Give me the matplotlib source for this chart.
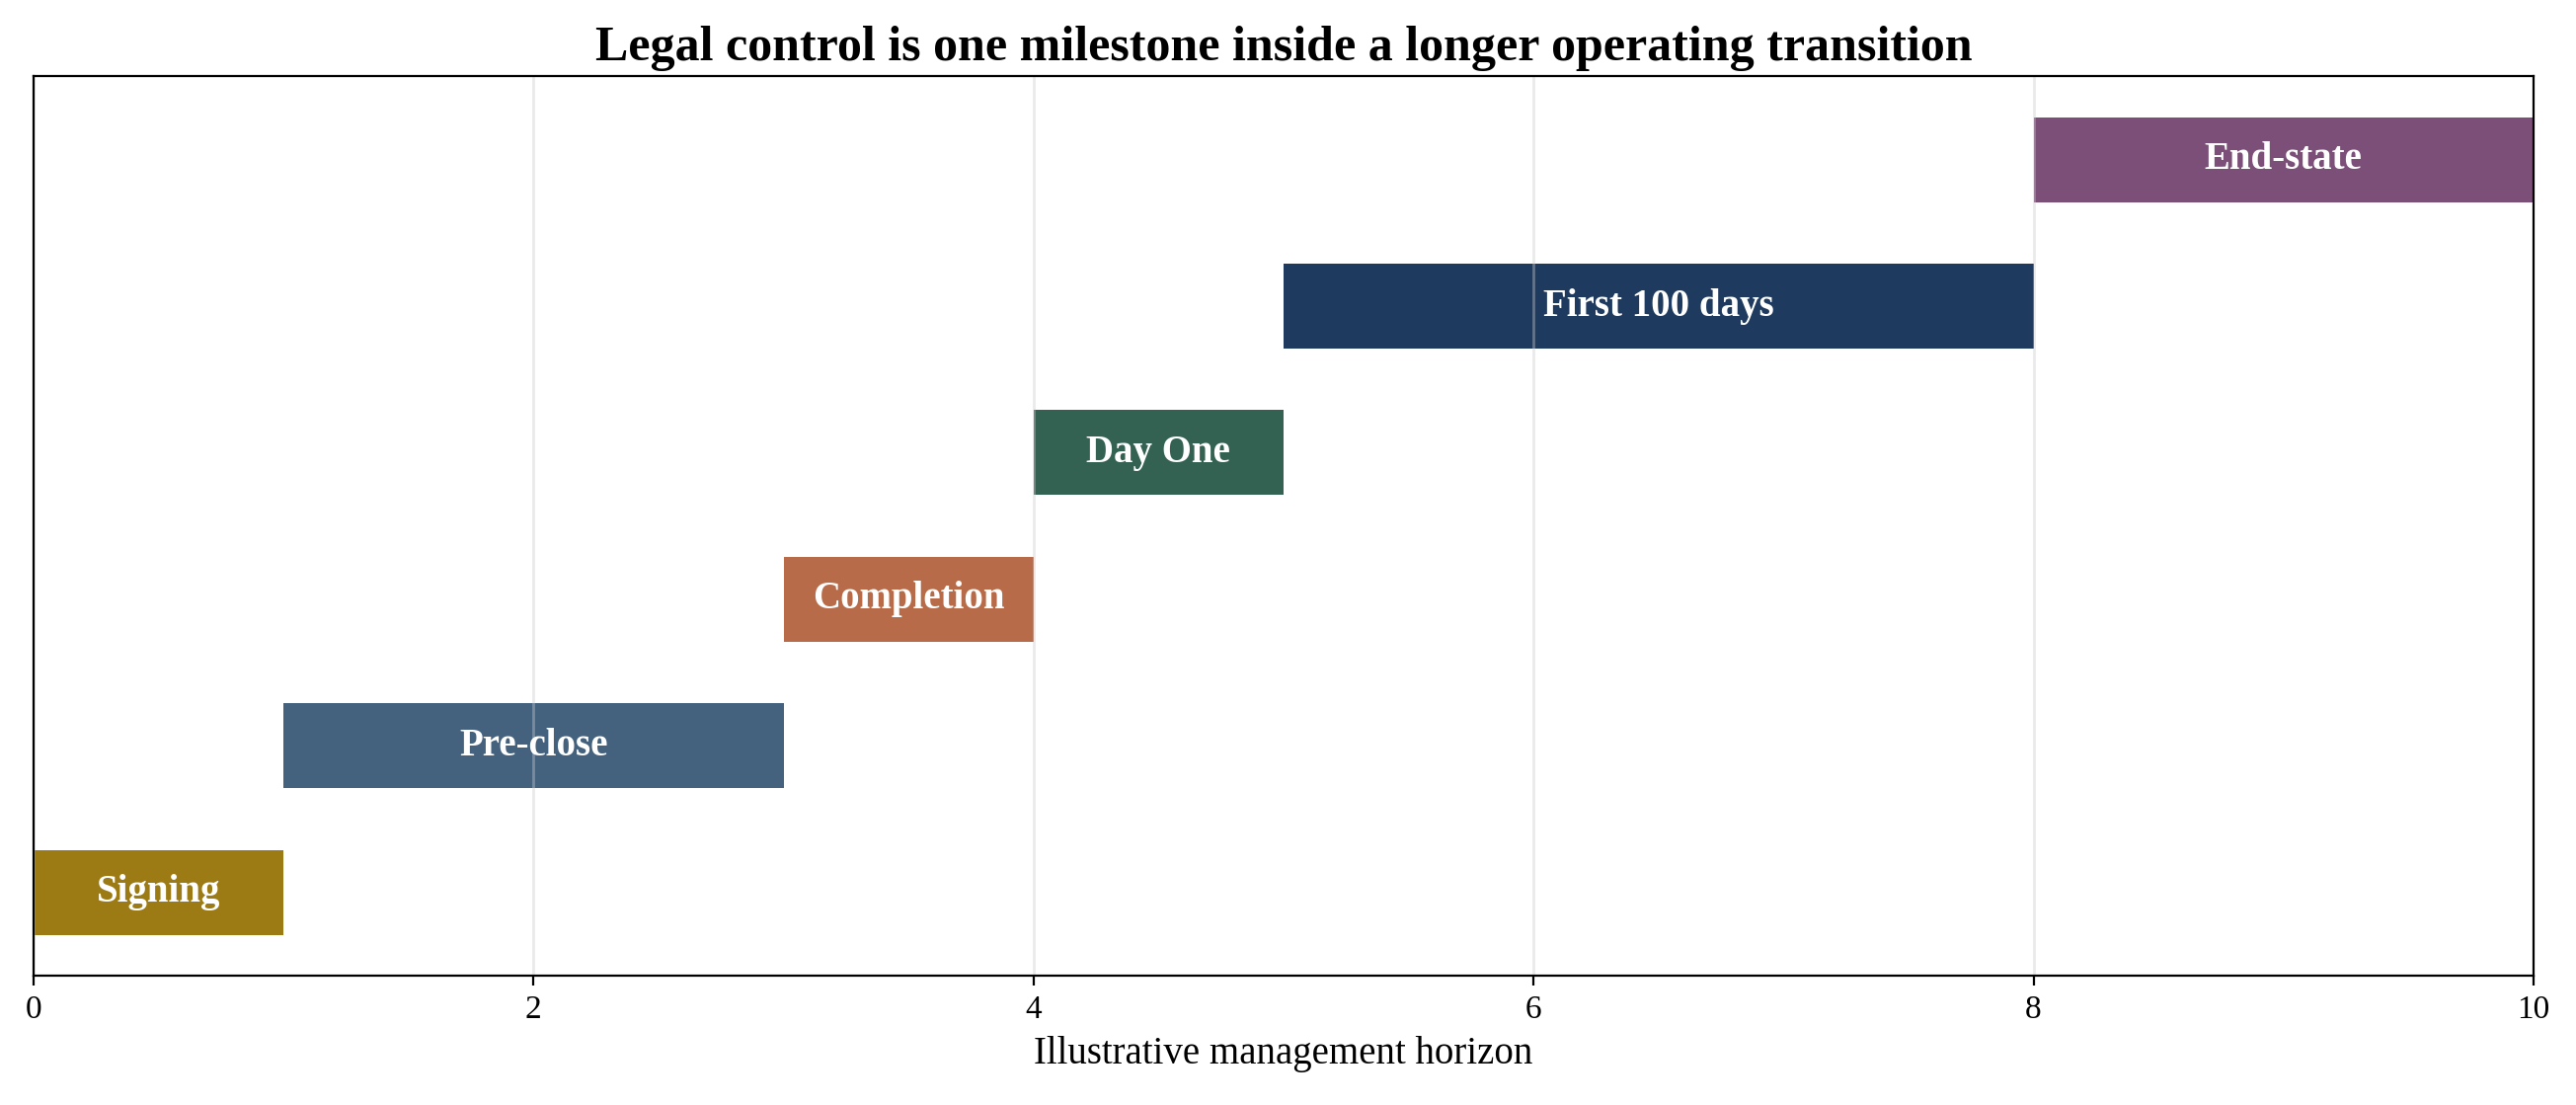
import matplotlib.pyplot as plt

plt.rcParams['font.family'] = ['Liberation Serif', 'DejaVu Serif']

phases = ["Signing", "Pre-close", "Completion", "Day One", "First 100 days", "End-state"]
starts = [0, 1, 3, 4, 5, 8]
durations = [1, 2, 1, 1, 3, 2]
colors = ["#9c7a14", "#44617e", "#b86b48", "#336152", "#1f3a5f", "#7b4f78"]

fig, ax = plt.subplots(figsize=(2609 / 200, 1119 / 200), dpi=200)
fig.subplots_adjust(left=0.013, right=0.9835, top=0.931, bottom=0.117)

ypos = list(range(len(phases)))
ax.barh(ypos, durations, left=starts, height=0.58, color=colors)

# phase names centred on each bar
for y, s, d, name in zip(ypos, starts, durations, phases):
    ax.text(s + d / 2, y, name, ha='center', va='center',
            color='white', fontsize=14, fontweight='bold')

ax.set_xlim(0, 10)
ax.set_yticks([])
ax.set_xticks([0, 2, 4, 6, 8, 10])
ax.tick_params(axis='x', labelsize=12)
ax.grid(axis='x', color='#cccccc', alpha=0.4, linewidth=1)
ax.set_xlabel('Illustrative management horizon', fontsize=14)
ax.set_title('Legal control is one milestone inside a longer operating transition',
             fontsize=18, fontweight='bold')

plt.savefig('out.png', dpi=200)
